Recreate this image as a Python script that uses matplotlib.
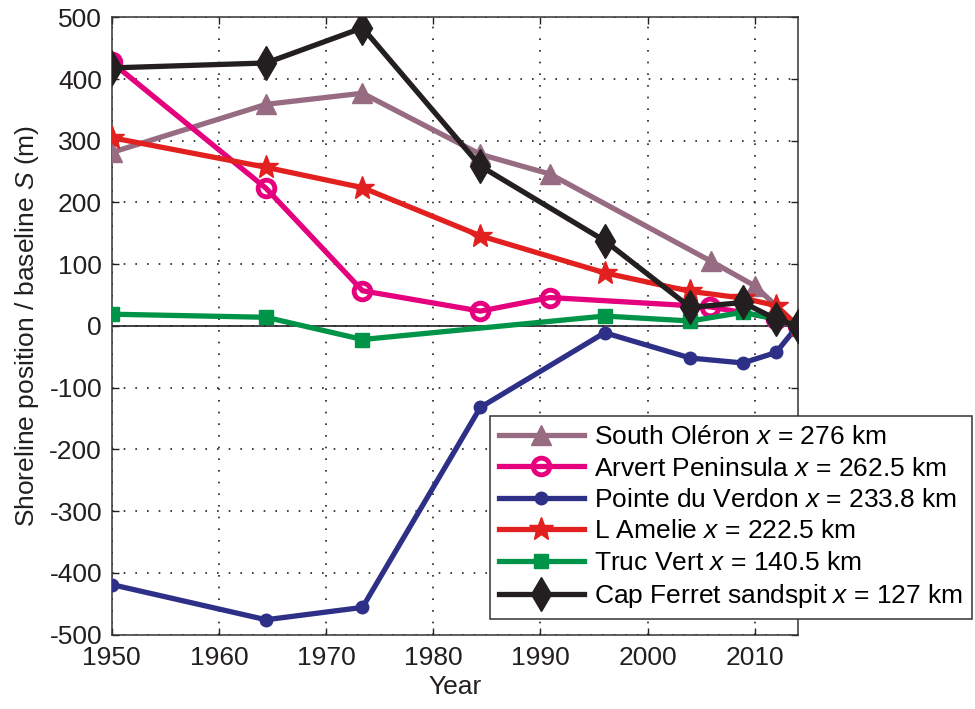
import numpy as np
import matplotlib
matplotlib.use('Agg')
import matplotlib.pyplot as plt
from matplotlib.ticker import MultipleLocator

plt.rcParams['font.family'] = ['Liberation Sans', 'DejaVu Sans']
plt.rcParams['mathtext.fontset'] = 'custom'
plt.rcParams['mathtext.rm'] = 'Liberation Sans'
plt.rcParams['mathtext.it'] = 'Liberation Sans:italic'
plt.rcParams['axes.unicode_minus'] = False

# shoreline position relative to the baseline (m)
oleron_years = [1950, 1964.4, 1973.4, 1984.4, 1990.9, 2005.9, 2010, 2014]
oleron = [281, 359, 377, 278, 246, 105, 65, 0]

arvert_years = [1950, 1964.4, 1973.4, 1984.4, 1990.9, 2005.8, 2012, 2014]
arvert = [427, 223, 57, 24, 46, 31, 12, 0]

verdon_years = [1950, 1964.4, 1973.4, 1984.4, 1996, 2004, 2008.9, 2012, 2014]
verdon = [-419, -476, -456, -132, -11, -52, -60, -43, 0]

amelie_years = [1950, 1964.4, 1973.4, 1984.4, 1996, 2004, 2008.9, 2012, 2014]
amelie = [305, 257, 224, 146, 86, 56, 45, 33, 0]

trucvert_years = [1950, 1964.4, 1973.4, 1996, 2004, 2008.9, 2012, 2014]
trucvert = [19, 14, -22, 16, 8, 22, 11, 0]

ferret_years = [1950, 1964.4, 1973.4, 1984.4, 1996, 2004, 2008.9, 2012, 2014]
ferret = [418, 426, 483, 259, 138, 30, 38, 11, 0]

labels = ['South Oléron $x$ = 276 km',
          'Arvert Peninsula $x$ = 262.5 km',
          'Pointe du Verdon $x$ = 233.8 km',
          'L Amelie $x$ = 222.5 km',
          'Truc Vert $x$ = 140.5 km',
          'Cap Ferret sandspit $x$ = 127 km']

fs = 19
fig = plt.figure(figsize=(9.75, 7.09), dpi=100, facecolor='white')
ax = fig.add_axes([0.1146, 0.105, 0.7034, 0.8706])

ax.axhline(0, color='#231F20', lw=1.2, zorder=1)

lw = 3.8
ax.plot(oleron_years, oleron, '-^', color='#976B82', lw=lw, ms=15, label=labels[0], zorder=3)
ax.plot(arvert_years, arvert, '-o', color='#E5007D', lw=lw, ms=12, mfc='none', mew=3.5, label=labels[1], zorder=3)
ax.plot(verdon_years, verdon, '-o', color='#2E3088', lw=lw, ms=9, label=labels[2], zorder=3)
ax.plot(amelie_years, amelie, '-*', color='#E2201F', lw=lw, ms=18, label=labels[3], zorder=3)
ax.plot(trucvert_years, trucvert, '-s', color='#009448', lw=lw, ms=10, label=labels[4], zorder=3)
ax.plot(ferret_years, ferret, '-d', color='#231F20', lw=lw, ms=17, label=labels[5], zorder=3)

ax.set_xlim(1950, 2014)
ax.set_ylim(-500, 500)
ax.xaxis.set_major_locator(MultipleLocator(10))
ax.yaxis.set_major_locator(MultipleLocator(100))
ax.grid(True, color='#231F20', ls=(0, (1, 6)), lw=1.2, zorder=0)
ax.tick_params(direction='in', top=True, right=True, length=5, width=1, labelsize=fs, colors='#231F20')
ax.tick_params(axis='y', pad=7)
ax.tick_params(axis='x', pad=8)
for s in ax.spines.values():
    s.set_color('#333333')
    s.set_linewidth(1.1)

ax.set_xlabel('Year', fontsize=fs, color='#231F20', labelpad=4)
ax.set_ylabel('Shoreline position / baseline $S$ (m)', fontsize=fs, color='#231F20', labelpad=6)

leg = ax.legend(loc='upper left', bbox_to_anchor=(0.5516, 0.354), fontsize=fs,
                frameon=True, fancybox=False, framealpha=1, edgecolor='#333333',
                handlelength=3.2, labelspacing=0.28, borderaxespad=0, borderpad=0.35,
                handletextpad=0.4)
leg.get_frame().set_linewidth(1.1)
leg.set_zorder(5)

fig.savefig('out.png', dpi=100, facecolor='white')
